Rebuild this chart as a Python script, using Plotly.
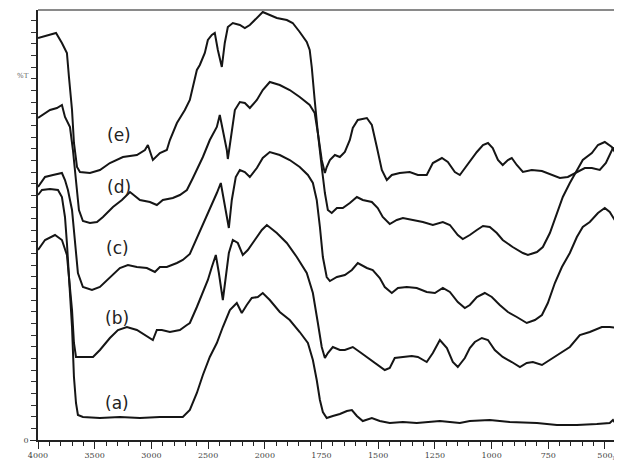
import plotly.graph_objects as go

# ---- data: wavenumber (cm-1) and %T (arbitrary units) ----
wn_e = [4000,3894,3841,3789,3745,3727,3700,3683,3656,3630,3542,3454,3366,3251,3128,3057,3031,2987,2925,2864,2837,2775,2705,2661,2634,2599,2573,2529,2502,2467,2441,2414,2379,2353,2326,2282,2220,2176,2132,2070,2018,1978,1947,1903,1877,1846,1815,1802,1793,1780,1766,1749,1735,1727,1713,1691,1669,1647,1625,1612,1590,1550,1528,1506,1484,1462,1440,1405,1361,1325,1286,1259,1219,1193,1162,1140,1118,1087,1065,1038,1016,995,972,951,928,911,889,862,823,778,734,699,664,624,589,558,523,496,465,443,425]
t_e = [40.2,40.5,40.7,39.7,38.7,36.3,33.0,29.7,27.3,26.8,26.7,27.0,27.7,28.3,28.5,29.0,29.5,28.0,28.7,29.0,30.0,31.7,33.0,34.0,35.3,37.0,37.5,38.7,40.0,40.5,40.7,39.0,37.3,39.7,41.3,41.7,41.5,41.2,41.5,42.2,42.8,42.5,42.2,42.0,41.7,40.8,39.8,39.0,37.3,34.0,30.7,28.0,26.7,27.3,28.0,28.5,28.3,28.8,30.0,31.2,32.0,32.2,31.5,29.3,27.0,26.0,26.5,26.7,26.8,26.5,26.5,27.7,28.2,27.8,26.8,26.5,27.2,28.2,28.8,29.5,29.7,29.2,28.0,27.5,28.0,28.2,27.5,26.8,27.0,26.9,26.5,26.2,26.3,26.8,27.2,27.2,27.0,27.7,29.2,29.0,28.5]

wn_d = [4000,3956,3894,3833,3789,3762,3718,3692,3665,3639,3604,3542,3480,3427,3339,3260,3189,3101,3013,2952,2899,2811,2749,2687,2634,2599,2546,2485,2423,2397,2370,2335,2326,2291,2264,2220,2176,2132,2070,2018,1978,1934,1890,1846,1802,1780,1766,1749,1735,1722,1705,1682,1656,1625,1594,1568,1528,1502,1480,1449,1418,1391,1347,1303,1259,1215,1184,1149,1127,1096,1065,1038,1008,977,951,907,862,840,800,774,743,712,686,655,624,598,558,531,501,470,443,425]
t_d = [32.2,32.5,33.0,33.2,33.5,32.3,31.3,29.0,25.7,23.0,21.9,21.7,21.8,22.3,23.3,24.0,24.8,24.0,23.8,23.5,24.0,24.2,24.5,25.0,26.2,27.0,28.3,30.0,31.3,32.5,31.0,29.0,28.1,30.7,33.0,33.8,33.7,33.2,34.0,35.0,35.8,35.5,35.0,34.3,33.5,32.7,30.7,27.3,24.7,23.0,22.7,23.2,23.2,23.7,24.3,24.0,23.8,23.2,22.3,21.6,22.0,22.2,22.0,21.8,21.5,21.8,21.5,20.5,20.1,20.5,21.0,21.4,21.3,20.7,20.0,19.3,18.7,18.5,18.8,19.3,20.7,22.7,24.3,25.7,27.0,28.0,28.7,29.5,29.8,29.3,28.3,28.0]

wn_c = [4000,3938,3868,3789,3762,3736,3700,3674,3648,3604,3524,3454,3366,3278,3207,3128,3040,2969,2925,2864,2775,2723,2661,2617,2573,2546,2485,2423,2388,2361,2335,2317,2291,2256,2220,2176,2132,2070,2018,1978,1934,1890,1846,1810,1788,1771,1757,1744,1727,1713,1682,1647,1616,1590,1550,1524,1493,1471,1440,1413,1374,1330,1286,1250,1215,1184,1149,1118,1096,1065,1030,999,964,928,889,845,809,778,752,721,690,655,624,598,567,531,501,479,457,434,425]
t_c = [25.3,26.3,26.5,26.7,26.0,25.0,23.0,19.7,16.7,15.3,15.0,15.3,16.3,17.2,17.5,17.3,17.2,16.8,17.3,17.3,17.7,18.0,18.6,19.7,20.8,21.5,23.0,24.7,25.7,24.0,22.0,21.2,24.0,26.3,27.0,26.8,26.3,27.2,28.2,28.8,28.5,28.0,27.3,26.5,25.7,24.0,21.3,18.3,16.3,15.9,16.3,16.5,17.0,17.7,17.2,17.0,16.2,15.3,14.7,15.2,15.3,15.2,14.8,14.7,15.2,14.8,13.8,13.2,13.5,14.3,14.7,14.3,13.5,12.8,12.3,11.7,12.0,12.5,13.7,15.7,17.3,18.7,20.3,21.3,21.8,22.7,23.2,22.8,22.0,21.3,21.2]

wn_b = [4000,3938,3850,3789,3745,3727,3700,3683,3665,3586,3515,3454,3366,3295,3216,3128,3057,3013,2987,2952,2908,2837,2749,2687,2661,2599,2546,2502,2467,2432,2405,2370,2344,2317,2282,2238,2194,2150,2088,2026,1991,1947,1903,1859,1815,1788,1766,1749,1735,1722,1700,1669,1647,1612,1581,1550,1524,1493,1471,1449,1427,1391,1352,1325,1286,1259,1228,1197,1171,1149,1118,1096,1074,1043,1016,986,951,911,875,845,818,778,743,699,655,611,567,514,479,448,425]
t_b = [19.0,20.0,20.5,20.0,18.5,16.3,13.0,9.7,8.3,8.3,8.3,9.0,10.2,11.0,11.3,11.0,10.5,10.2,10.0,11.0,11.0,10.8,11.0,11.5,11.7,13.3,14.7,16.0,17.3,18.5,16.7,14.0,16.3,18.7,20.0,19.7,18.5,19.0,20.0,21.0,21.5,20.7,19.7,18.3,16.7,14.7,11.7,9.3,8.2,8.7,9.3,9.0,9.0,9.3,8.8,8.3,7.8,7.3,7.0,7.2,8.2,8.3,8.4,8.3,7.8,8.7,10.0,9.2,7.8,7.3,8.2,9.2,9.8,10.2,10.0,9.0,8.3,7.8,7.3,7.7,7.8,7.5,8.0,8.7,9.3,10.5,10.8,11.3,11.3,11.2,11.3]

wn_a = [4000,3965,3894,3824,3789,3762,3745,3727,3700,3683,3665,3648,3604,3454,3278,3101,2925,2723,2661,2599,2546,2485,2423,2370,2308,2247,2203,2159,2115,2062,2018,1978,1934,1890,1846,1810,1788,1771,1757,1744,1727,1700,1669,1638,1616,1594,1568,1528,1493,1449,1391,1330,1272,1228,1184,1140,1096,1008,920,800,712,624,536,479,465,448,434,425]
t_a = [24.5,25.0,25.1,25.0,24.3,22.3,19.7,16.3,11.3,6.3,3.7,2.5,2.3,2.2,2.3,2.2,2.3,2.3,3.0,4.7,6.5,8.3,9.7,11.3,13.0,13.7,12.7,13.5,14.2,14.3,14.7,14.0,12.8,12.0,10.8,9.7,8.0,6.0,4.0,2.8,2.2,2.4,2.6,2.9,3.0,2.4,1.9,2.2,1.9,1.7,1.8,1.7,1.8,1.9,1.8,1.7,1.9,2.0,1.8,1.7,1.5,1.5,1.6,1.7,2.0,1.5,2.3,2.8]

tick_labels = [4000, 3500, 3000, 2500, 2000, 1750, 1500, 1250, 1000, 750, 500]
curve_names = ["(e)", "(d)", "(c)", "(b)", "(a)"]
label_wn = [3286, 3286, 3295, 3304, 3304]
label_t = [30.5, 25.3, 19.2, 12.2, 3.7]


def xs(w):
    """Spectrometer abscissa: scale doubles below 2000 cm-1."""
    return w if w >= 2000 else 2000 - 2 * (2000 - w)


series = [(wn_e, t_e), (wn_d, t_d), (wn_c, t_c), (wn_b, t_b), (wn_a, t_a)]

fig = go.Figure()
for (wn, t), name in zip(series, curve_names):
    fig.add_trace(go.Scatter(
        x=[xs(w) for w in wn], y=t, mode="lines", name=name,
        line=dict(color="#151515", width=2),
        hoverinfo="skip", showlegend=False,
    ))

for name, w, t in zip(curve_names, label_wn, label_t):
    fig.add_annotation(x=xs(w), y=t, text=name, showarrow=False,
                       font=dict(family="DejaVu Sans", size=17, color="#222"))

fig.update_xaxes(
    range=[xs(4000), xs(425)],
    tickmode="array",
    tickvals=[xs(v) for v in tick_labels],
    ticktext=[str(v) for v in tick_labels],
    ticks="outside", ticklen=7, tickwidth=1, tickcolor="#222",
    minor=dict(tickmode="linear", tick0=0, dtick=100, ticks="outside",
               ticklen=4, tickwidth=1, tickcolor="#222"),
    showgrid=False, zeroline=False,
    showline=True, linecolor="#222", linewidth=1.5,
    tickfont=dict(family="DejaVu Serif", size=8, color="#444"),
)
fig.update_yaxes(
    range=[0, 43],
    tickmode="array", tickvals=[0], ticktext=["0"],
    ticks="outside", ticklen=6, tickwidth=1, tickcolor="#222",
    minor=dict(tickmode="linear", tick0=0, dtick=1.165, ticks="outside",
               ticklen=5, tickwidth=1, tickcolor="#333"),
    showgrid=False, zeroline=False,
    showline=True, linecolor="#222", linewidth=1.5,
    tickfont=dict(family="DejaVu Serif", size=8, color="#444"),
)

# top frame line
fig.add_shape(type="line", xref="paper", yref="paper", x0=0, x1=1, y0=1, y1=1,
              line=dict(color="#8a8a8a", width=2))

fig.add_annotation(xref="paper", yref="paper", x=-0.04, y=0.86, text="%T",
                   showarrow=False, font=dict(family="DejaVu Serif", size=7, color="#666"))
fig.add_annotation(xref="paper", yref="paper", x=1.0, y=-0.053, xanchor="right",
                   yanchor="bottom", text="1/c", showarrow=False,
                   font=dict(family="DejaVu Serif", size=5, color="#777"))

# the page body adds an 8 px offset; the figure is sized to fill the rest of the window
fig.update_layout(
    width=614, height=454,
    margin=dict(l=30, r=0, t=2, b=22),
    paper_bgcolor="white", plot_bgcolor="white",
)

fig.write_html("out.html")
